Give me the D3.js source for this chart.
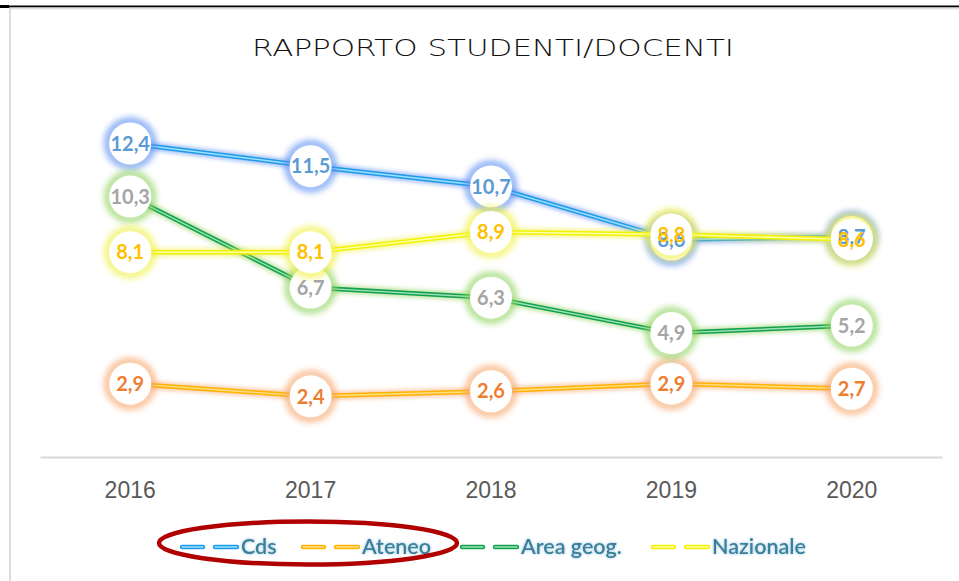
<!DOCTYPE html>
<html>
<head>
<meta charset="utf-8">
<script src="https://cdn.jsdelivr.net/npm/d3@7"></script>
<style>
  body { margin: 0; background: #fff; }
  svg { display: block; }
</style>
</head>
<body>
<svg id="chart" width="959" height="581"></svg>
<script>
// data
let years = ["2016", "2017", "2018", "2019", "2020"];
let seriesNames = ["Cds", "Ateneo", "Area geog.", "Nazionale"];
let cds = [12.4, 11.5, 10.7, 8.6, 8.7];
let ateneo = [2.9, 2.4, 2.6, 2.9, 2.7];
let areaGeog = [10.3, 6.7, 6.3, 4.9, 5.2];
let nazionale = [8.1, 8.1, 8.9, 8.8, 8.6];

let allSeries = [cds, ateneo, areaGeog, nazionale];

// styles per series
let lineCol = ["#1e9be8", "#ffb300", "#12a04e", "#f2f200"];
let innerCol = ["#9fe0ff", "#ffe08a", "#9fe3b8", "#ffffb0"];
let glowCol = ["#5a8ef2", "#f7a56a", "#8fd35e", "#f0f040"];
let labelCol = ["#5b9bd5", "#ed7d31", "#a5a5a5", "#ffc000"];

let svg = d3.select("#chart"),
    width = +svg.attr("width"),
    height = +svg.attr("height");

let defs = svg.append("defs");
defs.append("filter").attr("id", "blur")
    .attr("x", "-50%").attr("y", "-50%").attr("width", "200%").attr("height", "200%")
    .append("feGaussianBlur").attr("stdDeviation", 3);
defs.append("filter").attr("id", "lineBlur")
    .attr("x", "-10%").attr("y", "-50%").attr("width", "120%").attr("height", "200%")
    .append("feGaussianBlur").attr("stdDeviation", 2);
let tg = defs.append("filter").attr("id", "textGlow")
    .attr("x", "-20%").attr("y", "-50%").attr("width", "140%").attr("height", "200%");
tg.append("feGaussianBlur").attr("in", "SourceAlpha").attr("stdDeviation", 1.4).attr("result", "b");
tg.append("feFlood").attr("flood-color", "#8cc3dc").attr("result", "c");
tg.append("feComposite").attr("in", "c").attr("in2", "b").attr("operator", "in").attr("result", "g");
let tm = tg.append("feMerge");
tm.append("feMergeNode").attr("in", "g");
tm.append("feMergeNode").attr("in", "SourceGraphic");

// frame
svg.append("line").attr("x1", 0).attr("x2", width).attr("y1", 6.5).attr("y2", 6.5)
   .attr("stroke", "#000").attr("stroke-width", 2);
svg.append("rect").attr("x", 0).attr("y", 5).attr("width", 9).attr("height", 3).attr("fill", "#000");
svg.append("line").attr("x1", 10).attr("x2", width).attr("y1", 8.5).attr("y2", 8.5)
   .attr("stroke", "#e2e2e2").attr("stroke-width", 2);
svg.append("line").attr("x1", 10).attr("x2", 10).attr("y1", 8).attr("y2", height)
   .attr("stroke", "#dcdcdc").attr("stroke-width", 2);

// title
svg.append("text")
   .attr("x", 493).attr("y", 56)
   .attr("text-anchor", "middle")
   .attr("textLength", 482).attr("lengthAdjust", "spacingAndGlyphs")
   .style("font-family", "DejaVu Sans, sans-serif")
   .style("font-weight", "200")
   .style("font-size", "23px")
   .style("fill", "#111")
   .text("RAPPORTO STUDENTI/DOCENTI");

let x = d3.scaleBand().domain(years).range([40, 942]);
let y = d3.scaleLinear().domain([0, 14]).range([457, 103]);

// axis
let xAxis = svg.append("g")
   .attr("transform", `translate(0,457)`)
   .call(d3.axisBottom(x).tickSize(0).tickPadding(25));
xAxis.select(".domain").attr("stroke", "#d9d9d9").attr("stroke-width", 2);
xAxis.selectAll("text")
   .style("font-family", "Liberation Sans, Arial, sans-serif")
   .style("font-size", "23px")
   .style("fill", "#595959");

let line = d3.line()
   .x((d, i) => x(years[i]) + x.bandwidth() / 2)
   .y(d => y(d));

// lines and markers, series by series
allSeries.forEach(function(vals, s) {
    let g = svg.append("g").attr("class", "series");
    g.append("path").attr("d", line(vals))
     .attr("fill", "none").attr("stroke", glowCol[s]).attr("stroke-width", 8)
     .attr("opacity", 0.6).attr("filter", "url(#lineBlur)");
    g.append("path").attr("d", line(vals))
     .attr("fill", "none").attr("stroke", lineCol[s]).attr("stroke-width", 4.5);
    g.append("path").attr("d", line(vals))
     .attr("fill", "none").attr("stroke", innerCol[s]).attr("stroke-width", 1.4);

    let m = g.selectAll(".mk").data(vals).enter().append("g")
     .attr("transform", (d, i) => `translate(${x(years[i]) + x.bandwidth() / 2},${y(d)})`);
    m.append("circle").attr("r", 22.5)
     .attr("fill", "none").attr("stroke", glowCol[s]).attr("stroke-width", 7)
     .attr("opacity", 0.75)
     .attr("filter", "url(#blur)");
    m.append("circle").attr("r", 21).attr("fill", "#fff");
});

// data labels on top
allSeries.forEach(function(vals, s) {
    svg.append("g").selectAll("text").data(vals).enter().append("text")
       .attr("x", (d, i) => x(years[i]) + x.bandwidth() / 2)
       .attr("y", d => y(d))
       .attr("dy", "0.36em")
       .attr("text-anchor", "middle")
       .style("font-family", "Lato, sans-serif")
       .style("font-weight", "bold")
       .style("font-size", "20px")
       .style("fill", labelCol[s])
       .text(d => d3.format(".1f")(d).replace(".", ","));
});

// legend
let legX = [182, 303, 462, 653];
let legend = svg.append("g").attr("transform", "translate(0,547)");
seriesNames.forEach(function(name, s) {
    let lg = legend.append("g").attr("transform", `translate(${legX[s]},0)`);
    [[0, 21], [33, 55]].forEach(function(seg) {
        lg.append("line").attr("x1", seg[0]).attr("x2", seg[1])
          .attr("stroke", lineCol[s]).attr("stroke-width", 4.5).attr("stroke-linecap", "round");
        lg.append("line").attr("x1", seg[0]).attr("x2", seg[1])
          .attr("stroke", innerCol[s]).attr("stroke-width", 1.4).attr("stroke-linecap", "round");
    });
    lg.append("text").attr("x", 59).attr("y", 7)
      .style("font-family", "Lato, sans-serif")
      .style("font-size", "21.5px")
      .style("font-weight", "600")
      .style("fill", "#3b7f9b")
      .attr("filter", "url(#textGlow)")
      .text(name);
});

// highlight ellipse
svg.append("ellipse")
   .attr("cx", 308).attr("cy", 543).attr("rx", 149).attr("ry", 21.5)
   .attr("fill", "none").attr("stroke", "#b00000").attr("stroke-width", 4.5);
</script>
</body>
</html>
